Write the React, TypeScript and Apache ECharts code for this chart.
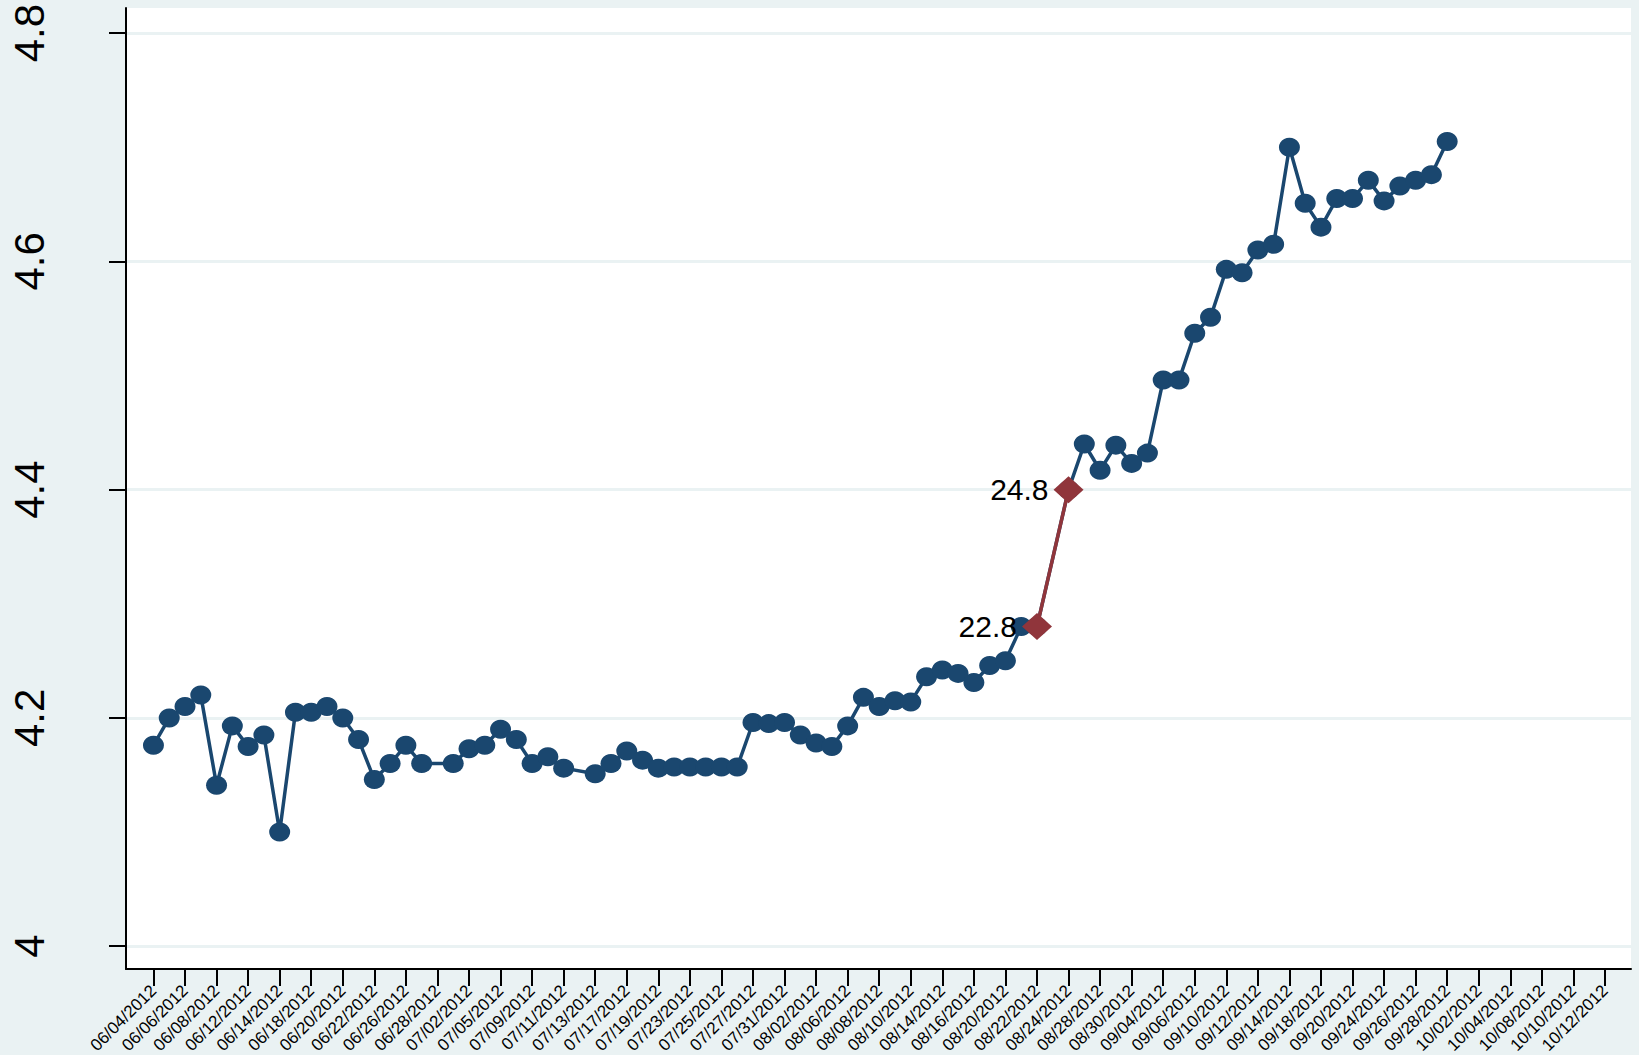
import React, { useEffect, useRef } from "react";
import * as echarts from "echarts";

const FONT = '"Liberation Sans", Arial, Helvetica, sans-serif';

// Tick labels (every second trading day)
const tickLabels = [
  "06/04/2012", "06/06/2012", "06/08/2012", "06/12/2012", "06/14/2012", "06/18/2012",
  "06/20/2012", "06/22/2012", "06/26/2012", "06/28/2012", "07/02/2012", "07/05/2012",
  "07/09/2012", "07/11/2012", "07/13/2012", "07/17/2012", "07/19/2012", "07/23/2012",
  "07/25/2012", "07/27/2012", "07/31/2012", "08/02/2012", "08/06/2012", "08/08/2012",
  "08/10/2012", "08/14/2012", "08/16/2012", "08/20/2012", "08/22/2012", "08/24/2012",
  "08/28/2012", "08/30/2012", "09/04/2012", "09/06/2012", "09/10/2012", "09/12/2012",
  "09/14/2012", "09/18/2012", "09/20/2012", "09/24/2012", "09/26/2012", "09/28/2012",
  "10/02/2012", "10/04/2012", "10/08/2012", "10/10/2012", "10/12/2012",
];
const tickDays = tickLabels.map((_, i) => i * 2);

// Trading-day index of each observation (missing days omitted)
const blueDays = [
  0, 1, 2, 3, 4, 5, 6, 7, 8, 9, 10, 11, 12, 13, 14, 15, 16, 17,
  19, 20, 21, 22, 23, 24, 25, 26,
  28, 29, 30, 31, 32, 33, 34, 35, 36, 37, 38, 39, 40, 41, 42, 43, 44, 45, 46, 47, 48,
  49, 50, 51, 52, 53, 54, 55, 56,
  58, 59, 60, 61, 62, 63, 64, 65, 66, 67, 68, 69, 70, 71, 72, 73, 74, 75, 76, 77, 78,
  79, 80, 81, 82,
];
const blueValues = [
  4.176, 4.2, 4.21, 4.22, 4.141, 4.193, 4.175, 4.185, 4.1, 4.205, 4.205, 4.21, 4.2, 4.181, 4.146, 4.16, 4.176, 4.16,
  4.16, 4.173, 4.176, 4.19, 4.181, 4.16, 4.166, 4.156,
  4.151, 4.16, 4.171, 4.163, 4.156, 4.157, 4.157, 4.157, 4.157, 4.157, 4.196, 4.195, 4.196, 4.185, 4.178, 4.175, 4.193, 4.218, 4.21, 4.215, 4.214,
  4.236, 4.242, 4.239, 4.231, 4.246, 4.25, 4.28, 4.28,
  4.4, 4.44, 4.417, 4.439, 4.423, 4.432, 4.496, 4.496, 4.537, 4.551, 4.593, 4.59, 4.61, 4.615, 4.7, 4.651, 4.63, 4.655, 4.655, 4.671, 4.653,
  4.666, 4.671, 4.676, 4.705,
];

const redDays = [56, 58];
const redValues = [4.28, 4.4];
const redLabels = ["22.8", "24.8"];

const yTicks = [4, 4.2, 4.4, 4.6, 4.8];

export default function App() {
  const ref = useRef<HTMLDivElement>(null);

  useEffect(() => {
    if (!ref.current) return;
    const chart = echarts.init(ref.current, null, { renderer: "svg" });
    const option: any = {
      animation: false,
      backgroundColor: "#eaf2f3",
      grid: {
        left: 126,
        top: 8,
        width: 1505,
        height: 961,
        show: true,
        backgroundColor: "#ffffff",
        borderWidth: 0,
        containLabel: false,
        outerBoundsMode: "none",
      },
      xAxis: {
        type: "value",
        min: -1.74,
        max: 93.65,
        axisLine: { show: true, onZero: false, lineStyle: { color: "#000", width: 2 } },
        axisTick: { show: true, customValues: tickDays, length: 17, lineStyle: { color: "#000", width: 2 } },
        axisLabel: {
          show: true,
          customValues: tickDays,
          rotate: 45,
          formatter: (v: number) => tickLabels[Math.round(v / 2)] ?? "",
          fontSize: 17,
          color: "#000",
          fontFamily: FONT,
          margin: 19,
        },
        splitLine: { show: false },
      },
      yAxis: {
        type: "value",
        min: 3.98,
        max: 4.822,
        axisLine: { show: true, onZero: false, lineStyle: { color: "#000", width: 2 } },
        axisTick: { show: true, customValues: yTicks, length: 17, lineStyle: { color: "#000", width: 2 } },
        axisLabel: {
          show: true,
          customValues: yTicks,
          rotate: 90,
          fontSize: 42,
          color: "#000",
          fontFamily: FONT,
          margin: 76,
          formatter: (v: number) => String(v),
        },
        splitLine: { show: true, lineStyle: { color: "#eaf2f3", width: 3 } },
      },
      series: [
        {
          type: "line",
          data: blueDays.map((d, i) => [d, blueValues[i]]),
          symbol: "circle",
          symbolSize: [21, 19],
          itemStyle: { color: "#1a476f" },
          lineStyle: { color: "#1a476f", width: 3.5 },
          z: 2,
        },
        {
          type: "line",
          data: redDays.map((d, i) => [d, redValues[i]]),
          symbol: "diamond",
          symbolSize: [30, 27],
          itemStyle: { color: "#90353b" },
          lineStyle: { color: "#90353b", width: 3.5 },
          label: {
            show: true,
            position: "left",
            distance: 5,
            formatter: (p: any) => redLabels[p.dataIndex],
            fontSize: 30,
            color: "#000",
            fontFamily: FONT,
          },
          z: 3,
        },
      ],
    };
    chart.setOption(option);
    return () => chart.dispose();
  }, []);

  return (
    <div
      ref={ref}
      style={{ position: "fixed", left: 0, top: 0, width: 1639, height: 1055 }}
    />
  );
}
